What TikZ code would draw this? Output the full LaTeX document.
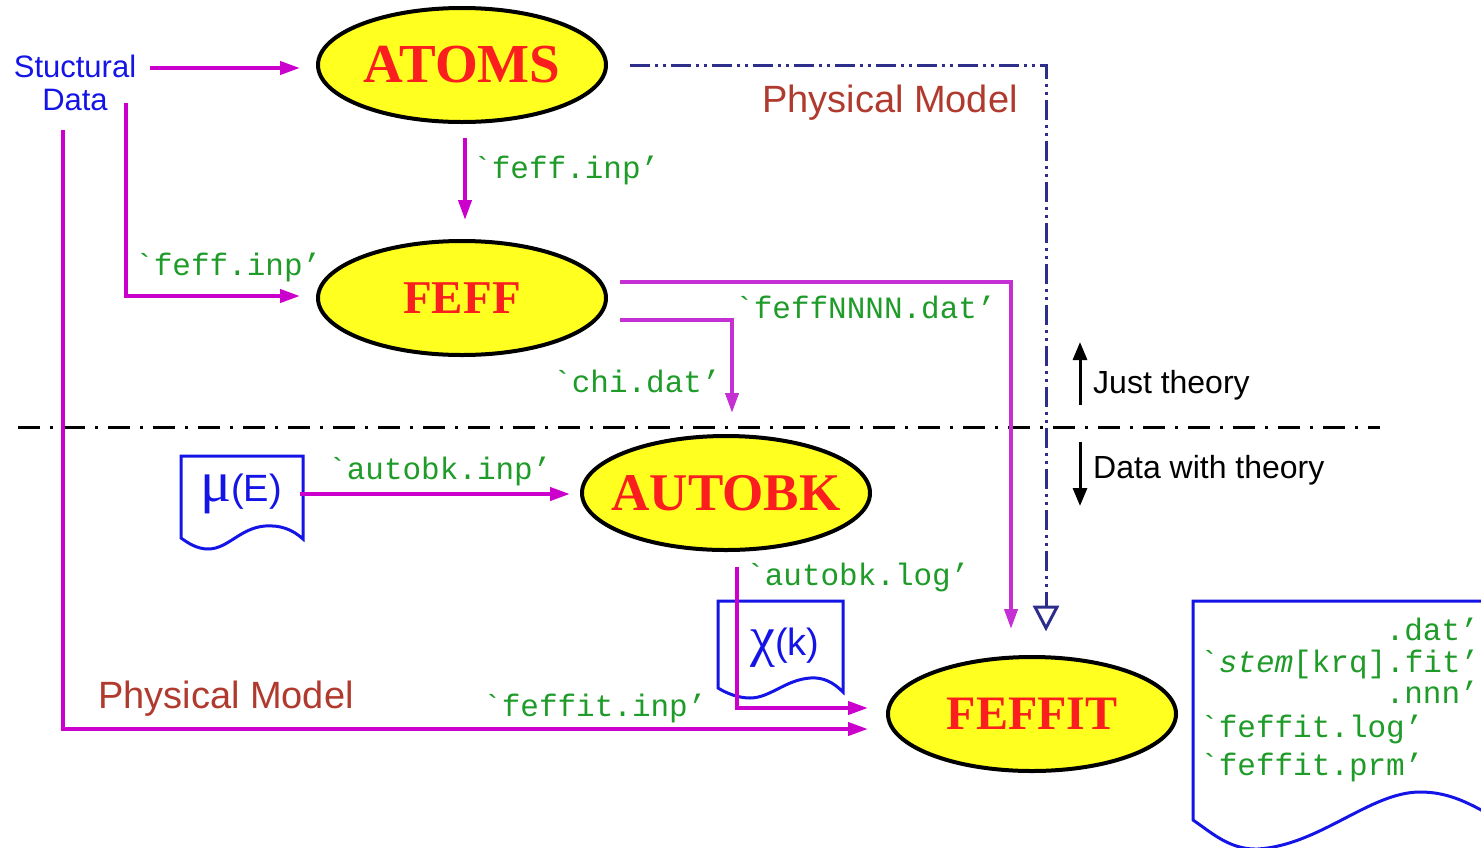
\documentclass[tikz,border=0pt]{standalone}
\usepackage{fontspec}
\usetikzlibrary{shapes.geometric,arrows.meta,calc}
\newfontfamily\sansf{Liberation Sans}
\newfontfamily\seriff{Liberation Serif}
\newfontfamily\monof{Liberation Mono}
\definecolor{mag}{RGB}{204,0,204}
\definecolor{magb}{RGB}{196,48,212}
\definecolor{grn}{RGB}{30,155,40}
\definecolor{navy}{RGB}{45,45,140}
\definecolor{brn}{RGB}{176,58,46}
\definecolor{ylw}{RGB}{255,255,32}
\definecolor{redt}{RGB}{250,30,30}
\definecolor{blu}{RGB}{20,20,230}
\begin{document}
\begin{tikzpicture}[x=1pt,y=-1pt,
 prog/.style={ellipse, draw=black, line width=4pt, fill=ylw, minimum width=288pt, minimum height=114pt, inner sep=0pt, text=redt},
 pfont/.style={font=\seriff\bfseries\fontsize{#1}{#1}\selectfont},
 flow/.style={draw=mag, line width=4pt, -{Triangle[length=20pt,width=13pt]}},
 flowb/.style={draw=magb, line width=4pt, -{Triangle[length=20pt,width=13pt]}},
 fname/.style={text=grn, font=\monof\fontsize{31}{31}\selectfont, inner sep=0pt},
 lbl/.style={font=\sansf\fontsize{#1}{#1}\selectfont, inner sep=0pt},
 doc/.style={draw=blu, line width=3pt, fill=white, line join=miter},
 navyline/.style={draw=navy, line width=3pt, dash pattern=on 20pt off 5pt on 3pt off 5pt on 3pt off 5pt},
 sep/.style={draw=black, line width=3pt, dash pattern=on 22pt off 10pt on 3pt off 10pt},
 side/.style={draw=black, line width=3pt, -{Triangle[length=18pt,width=14pt]}}
]
\useasboundingbox (0,0) rectangle (1481,847);
\begin{scope}
\clip (0,0) rectangle (1481,847);

% separator line
\coordinate (sepL) at (18,427);
\coordinate (sepR) at (1380,427);
\draw[sep] (sepL) -- (sepR);

% programs
\node[prog, pfont=55] (atoms) at (462,65) {\makebox[0pt]{ATOMS}};
\node[prog, pfont=47] (feff) at (462,298) {\makebox[0pt]{FEFF}};
\node[prog, pfont=53] (autobk) at (726,493) {\makebox[0pt]{AUTOBK}};
\node[prog, pfont=48] (feffit) at (1032,714) {\makebox[0pt]{FEFFIT}};

% structural data
\node[lbl=31, text=blu, align=center, font=\sansf\fontsize{31}{33}\selectfont] (sd) at (75,83) {Stuctural\\Data};

% documents
\draw[doc] (181,456) -- (303,456) -- (303,539)
  .. controls (292,529) and (280,525) .. (265,526)
  .. controls (240,528) and (228,549) .. (208,549)
  .. controls (197,549) and (188,543) .. (181,538) -- cycle;
\node[inner sep=0pt, text=blu] (mu) at (241,494) {{\seriff\fontsize{58}{58}\selectfont μ}{\sansf\fontsize{38}{38}\selectfont (E)}};

\draw[doc] (718,601) -- (843,601) -- (843,692)
  .. controls (833,682) and (823,677) .. (810,678)
  .. controls (785,680) and (770,698) .. (750,698)
  .. controls (738,698) and (726,693) .. (718,688) -- cycle;
\node[inner sep=0pt, text=blu] (chi) at (785,648) {{\seriff\fontsize{56}{56}\selectfont χ}{\sansf\fontsize{38}{38}\selectfont (k)}};

\draw[doc] (1495,601) -- (1193,601) -- (1193,820)
  .. controls (1212,833) and (1230,850) .. (1258,849)
  .. controls (1320,845) and (1370,792) .. (1420,792)
  .. controls (1445,792) and (1465,800) .. (1495,818);

% physical model (navy)
\coordinate (pmA) at (630,65);
\coordinate (pmB) at (1046,65);
\coordinate (pmC) at (1046,629);
\draw[navyline] (pmA) -- (pmB) -- (pmC);
\draw[draw=navy, line width=3pt, fill=white, line join=miter] (1035,607) -- (1057,607) -- (1046,628) -- cycle;
\node[lbl=38, text=brn, anchor=base west] (pm1) at (762,112) {Physical Model};

% magenta flows
\coordinate (s1) at (150,68);
\coordinate (s1e) at (300,68);
\draw[flow] (s1) -- (s1e);

\coordinate (s2) at (126,103);
\coordinate (s2e) at (300,296);
\draw[flow] (s2) |- (s2e);
\node[fname, anchor=base west] (l2) at (135,275) {`feff.inp’};

\coordinate (s3) at (63,130);
\coordinate (s3e) at (868,729);
\draw[flow] (s3) |- (s3e);
\node[fname, anchor=base west] (l7) at (483,716) {`feffit.inp’};
\node[lbl=38, text=brn, anchor=base west] (pm2) at (98,708) {Physical Model};

\coordinate (a1) at (465,138);
\coordinate (a1e) at (465,220);
\draw[flow] (a1) -- (a1e);
\node[fname, anchor=base west] (l1) at (473,178) {`feff.inp’};

\coordinate (f1) at (620,282);
\coordinate (f1e) at (1011,629);
\draw[flowb] (f1) -| (f1e);
\node[fname, anchor=base west] (l3) at (735,318) {`feffNNNN.dat’};

\coordinate (f2) at (620,320);
\coordinate (f2e) at (732,413);
\draw[flowb] (f2) -| (f2e);
\node[fname, anchor=base west] (l4) at (553,392) {`chi.dat’};

\coordinate (m1) at (300,494);
\coordinate (m1e) at (570,494);
\draw[flow] (m1) -- (m1e);
\node[fname, anchor=base west] (l5) at (328,479) {`autobk.inp’};

\coordinate (b1) at (737,567);
\coordinate (b1e) at (868,708);
\draw[flow] (b1) |- (b1e);
\node[fname, anchor=base west] (l6) at (746,585) {`autobk.log’};

% side arrows
\coordinate (jt1) at (1080,405);
\coordinate (jt2) at (1080,342);
\draw[side] (jt1) -- (jt2);
\node[lbl=32, anchor=base west] (jt) at (1093,393) {Just theory};
\coordinate (dt1) at (1080,442);
\coordinate (dt2) at (1080,506);
\draw[side] (dt1) -- (dt2);
\node[lbl=32, anchor=base west] (dt) at (1093,478) {Data with theory};

% output files
\node[fname, anchor=base east] (o1) at (1479,640) {.dat’};
\node[fname, anchor=base west] (o2) at (1200,672) {`{\itshape stem}[krq].fit’};
\node[fname, anchor=base east] (o3) at (1479,703) {.nnn’};
\node[fname, anchor=base west] (o4) at (1200,737) {`feffit.log’};
\node[fname, anchor=base west] (o5) at (1200,775) {`feffit.prm’};
\end{scope}
\end{tikzpicture}
\end{document}
